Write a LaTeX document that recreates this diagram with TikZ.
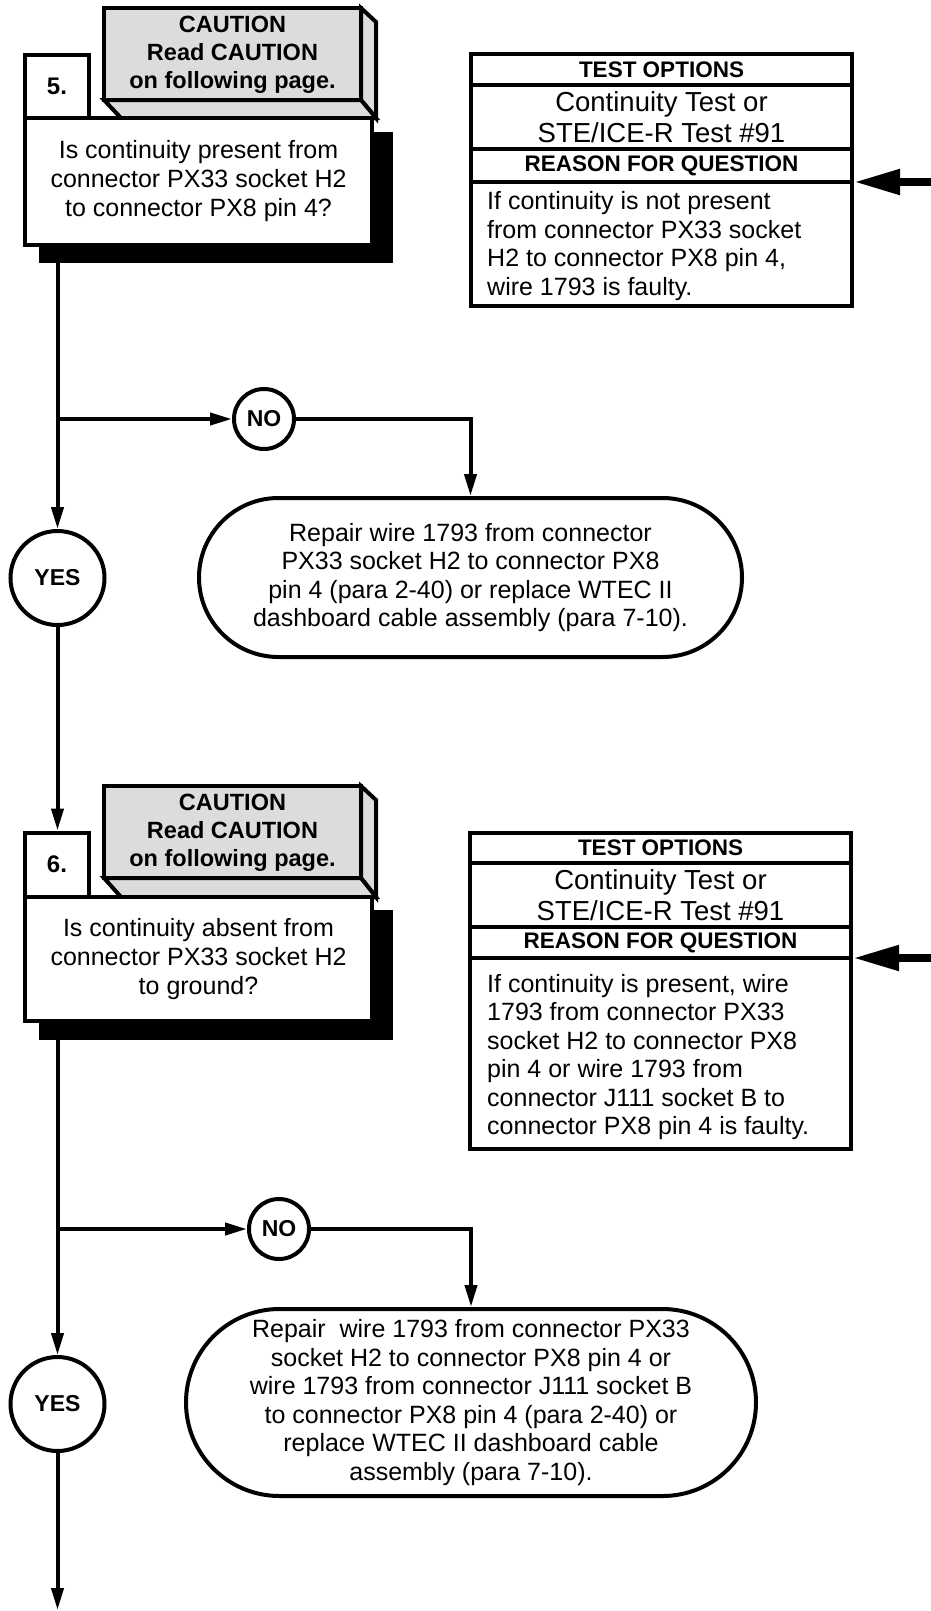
\documentclass[tikz,border=0pt]{standalone}
\usepackage{fontspec}
\setmainfont{Liberation Sans}
\usetikzlibrary{arrows.meta,shapes.misc}
\definecolor{cgray}{RGB}{220,220,220}
\newcommand{\myfbody}{\fontsize{25}{28.5}\selectfont}
\newcommand{\myfq}{\fontsize{25}{29}\selectfont}
\newcommand{\myfhead}{\fontsize{22.5}{27}\selectfont\bfseries}
\newcommand{\myfcaut}{\fontsize{23.5}{28}\selectfont\bfseries}
\newcommand{\myfyn}{\fontsize{23}{26}\selectfont\bfseries}
\newcommand{\myfnum}{\fontsize{24}{28}\selectfont\bfseries}
\newcommand{\myfcont}{\fontsize{27.5}{31}\selectfont}
\begin{document}
\begin{tikzpicture}[x=1pt,y=-1pt,
  ln/.style={line width=4pt},
  flow/.style={line width=4pt,-{Triangle[length=22pt,width=12pt]}},
  bigflow/.style={line width=8pt,-{Triangle[length=46pt,width=24pt]}},
  qbox/.style={draw,line width=4pt,fill=white,minimum width=347pt,inner sep=0pt,align=center,font=\myfq},
  numbox/.style={draw,line width=4pt,fill=white,minimum width=64pt,inner sep=0pt,font=\myfnum},
  cface/.style={draw,line width=4pt,fill=cgray,line join=miter},
  ctext/.style={align=center,font=\myfcaut,inner sep=0pt},
  shadow/.style={fill=black},
  yesc/.style={circle,draw,line width=4pt,fill=white,minimum size=94pt,inner sep=0pt,font=\myfyn},
  noc/.style={circle,draw,line width=4pt,fill=white,minimum size=60pt,inner sep=0pt,font=\myfyn},
  repbox/.style={rounded rectangle,draw,line width=4pt,fill=white,inner sep=0pt,align=center,font=\myfbody},
  torow/.style={draw,line width=4pt,minimum width=381pt,inner sep=0pt,align=center},
  tohead/.style={torow,font=\myfhead},
  tocont/.style={torow,font=\myfcont},
  totext/.style={anchor=west,align=left,inner sep=0pt,font=\myfbody}
]
\useasboundingbox (0,0) rectangle (931,1611);

% ---------------- Block 5 ----------------
\fill[shadow] (39,132) rectangle (393,263);
\draw[cface] (104,8) rectangle (361,100);
\draw[cface] (361,8) -- (376,22) -- (376,118) -- (361,100) -- cycle;
\draw[cface] (104,100) -- (361,100) -- (376,118) -- (121,118) -- cycle;
\node[ctext] (caut5) at (232.5,55) {CAUTION\\Read CAUTION\\on following page.};
\node[numbox,minimum height=63pt] (n5) at (57,86.5) {5.};
\node[qbox,minimum height=127pt] (q5) at (198.5,181.5) {Is continuity present from\\connector PX33 socket H2\\to connector PX8 pin 4?};

\node[tohead,minimum height=31pt] (to1h) at (661.5,69.5) {TEST OPTIONS};
\node[tocont,minimum height=64pt] (to1c) at (661.5,117) {Continuity Test or\\STE/ICE-R Test \#91};
\node[tohead,minimum height=33pt] (to1r) at (661.5,165.5) {REASON FOR QUESTION};
\node[torow,minimum height=124pt] (to1b) at (661.5,244) {};
\node[totext] (to1t) at (487,246) {If continuity is not present\\from connector PX33 socket\\H2 to connector PX8 pin 4,\\wire 1793 is faulty.};
\coordinate (in1) at (931,182);
\draw[bigflow] (in1) -- (in1 -| to1b.east);

\node[yesc] (yes1) at (57.5,578) {YES};
\node[noc] (no1) at (264,419) {NO};
\node[repbox,minimum width=543pt,minimum height=159pt] (rep1) at (470.5,577.5) {Repair wire 1793 from connector\\PX33 socket H2 to connector PX8\\pin 4 (para 2-40) or replace WTEC II\\dashboard cable assembly (para 7-10).};
\coordinate (br1) at (57.5,419);
\draw[flow] (yes1.north |- q5.south) -- (yes1.north);
\draw[flow] (br1) -- (no1.west);
\draw[flow] (no1.east) -| (rep1.north);

% ---------------- Block 6 ----------------
\fill[shadow] (39,910) rectangle (393,1040);
\draw[cface] (104,786) rectangle (361,878);
\draw[cface] (361,786) -- (376,800) -- (376,897) -- (361,878) -- cycle;
\draw[cface] (104,878) -- (361,878) -- (376,897) -- (121,897) -- cycle;
\node[ctext] (caut6) at (232.5,833) {CAUTION\\Read CAUTION\\on following page.};
\node[numbox,minimum height=64pt] (n6) at (57,864.5) {6.};
\node[qbox,minimum height=124pt] (q6) at (198.5,959) {Is continuity absent from\\connector PX33 socket H2\\to ground?};
\draw[flow] (yes1.south) -- (yes1.south |- n6.north);

\node[tohead,minimum height=30pt] (to2h) at (660.5,848) {TEST OPTIONS};
\node[tocont,minimum height=64pt] (to2c) at (660.5,895) {Continuity Test or\\STE/ICE-R Test \#91};
\node[tohead,minimum height=31pt] (to2r) at (660.5,942.5) {REASON FOR QUESTION};
\node[torow,minimum height=191pt] (to2b) at (660.5,1053.5) {};
\node[totext] (to2t) at (487,1057) {If continuity is present, wire\\1793 from connector PX33\\socket H2 to connector PX8\\pin 4 or wire 1793 from\\connector J111 socket B to\\connector PX8 pin 4 is faulty.};
\coordinate (in2) at (931,958);
\draw[bigflow] (in2) -- (in2 -| to2b.east);

\node[yesc] (yes2) at (57.5,1404) {YES};
\node[noc] (no2) at (279,1229) {NO};
\node[repbox,minimum width=570pt,minimum height=187pt] (rep2) at (471,1402.5) {Repair~ wire 1793 from connector PX33\\socket H2 to connector PX8 pin 4 or\\wire 1793 from connector J111 socket B\\to connector PX8 pin 4 (para 2-40) or\\replace WTEC II dashboard cable\\assembly (para 7-10).};
\coordinate (br2) at (57.5,1229);
\coordinate (endc) at (57.5,1610);
\draw[flow] (yes2.north |- q6.south) -- (yes2.north);
\draw[flow] (br2) -- (no2.west);
\draw[flow] (no2.east) -| (rep2.north);
\draw[flow] (yes2.south) -- (endc);
\end{tikzpicture}
\end{document}
